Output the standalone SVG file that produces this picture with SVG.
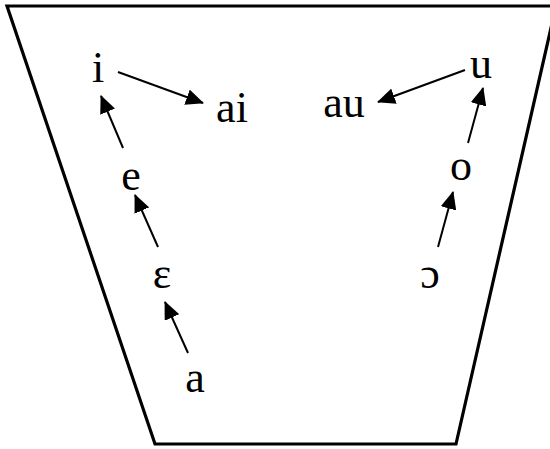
<svg xmlns="http://www.w3.org/2000/svg" width="550" height="449" viewBox="0 0 550 449">
<style>
.lbl{font-family:"Liberation Serif","Times New Roman",serif;font-size:44px;fill:#000;text-anchor:middle}
.arr{stroke:#000;stroke-width:2;fill:none;marker-end:url(#ah)}
</style>
<defs>
<marker id="ah" markerUnits="userSpaceOnUse" markerWidth="18" markerHeight="16" viewBox="0 0 18 16" refX="17" refY="8" orient="auto">
<path d="M0,0 L18,8 L0,16 Z" fill="#000"/>
</marker>
</defs>
<rect width="550" height="449" fill="#fff"/>
<polygon id="chart" points="7,6 556,6 456,444 155,444" fill="none" stroke="#000" stroke-width="3.2" stroke-linejoin="miter"/>
<g id="connectors">
<line class="arr" x1="118" y1="72" x2="203" y2="103"/>
<line class="arr" x1="465" y1="70" x2="378" y2="102"/>
<line class="arr" x1="468" y1="143" x2="483" y2="88"/>
<line class="arr" x1="438" y1="247" x2="453" y2="192"/>
<line class="arr" x1="123" y1="148" x2="101" y2="96"/>
<line class="arr" x1="158" y1="247" x2="135" y2="195"/>
<line class="arr" x1="188" y1="353" x2="165" y2="302"/>
</g>
<g id="n-i"><text class="lbl" x="98" y="82">i</text></g>
<g id="n-ai"><text class="lbl" x="232" y="122">ai</text></g>
<g id="n-au"><text class="lbl" x="344" y="117">au</text></g>
<g id="n-u"><text class="lbl" x="481" y="78">u</text></g>
<g id="n-o"><text class="lbl" x="461" y="180">o</text></g>
<g id="n-open-o"><text class="lbl" x="430" y="288">ɔ</text></g>
<g id="n-e"><text class="lbl" x="131" y="190">e</text></g>
<g id="n-open-e"><text class="lbl" x="162" y="288">ɛ</text></g>
<g id="n-a"><text class="lbl" x="195" y="392">a</text></g>
</svg>
